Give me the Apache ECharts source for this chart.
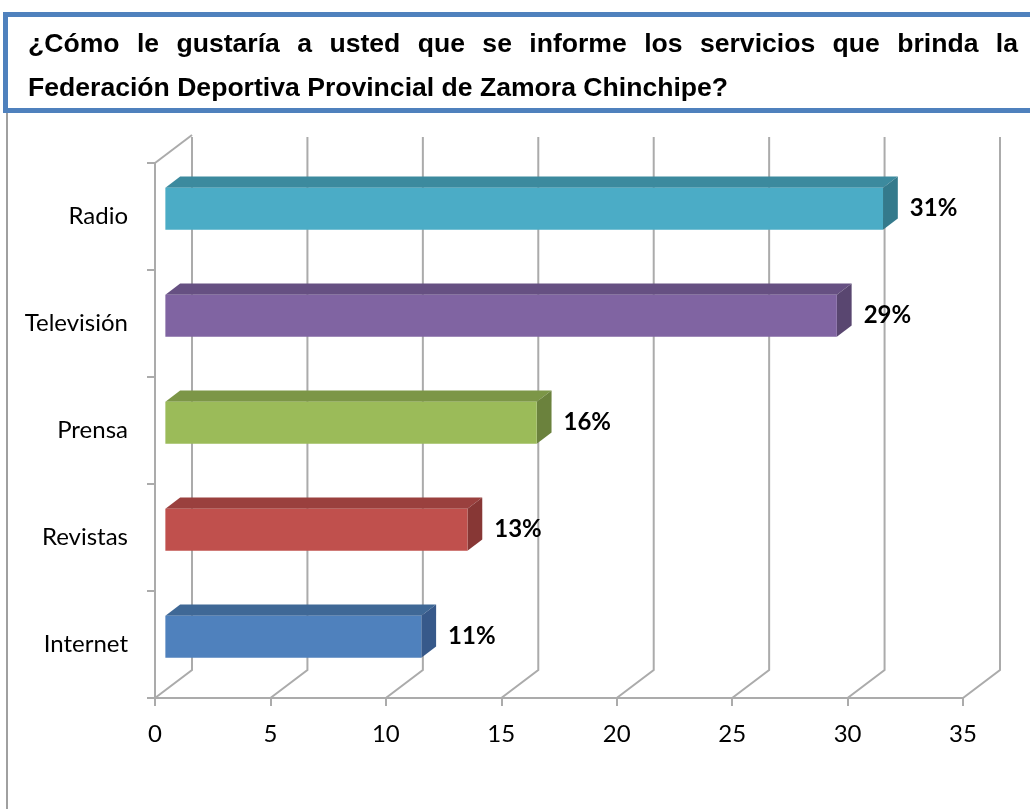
<!DOCTYPE html>
<html><head><meta charset="utf-8">
<script src="https://cdn.jsdelivr.net/npm/echarts@6/dist/echarts.min.js"></script>
<style>html,body{margin:0;padding:0;background:#fff}#c{width:1030px;height:809px}</style>
</head><body><div id="c"></div>
<script>
// ---- data ----
const categories = ['Internet', 'Revistas', 'Prensa', 'Televisión', 'Radio'];
const values = [11, 13, 16, 29, 31];
const xTicks = [0, 5, 10, 15, 20, 25, 30, 35];
const titleLine1 = '¿Cómo le gustaría a usted que se informe los servicios que brinda la';
const titleLine2 = 'Federación Deportiva Provincial de Zamora Chinchipe?';

// ---- styles ----
const faceColors = ['#4F81BD', '#C0504D', '#9BBB59', '#8064A2', '#4BACC6'];
const topColors  = ['#3F6896', '#9A403E', '#7C9647', '#665082', '#3C8A9E'];
const sideColors = ['#37598A', '#873735', '#6B823D', '#594670', '#347A8C'];
const GRID_COLOR = '#ABABAB';
const DX = 37, DY = -28;      // depth vector of the 3D box
const F0 = 0.28, F1 = 0.68;   // bar depth range
const BAR_H = 42;
const LABEL_FONT = 'Lato';

// ---- title layout (justified line 1) ----
const ctx = document.createElement('canvas').getContext('2d');
ctx.font = 'bold 26px "Liberation Sans"';
const l2w = ctx.measureText(titleLine2).width;
const TFS = 26 * 700 / l2w;
const TF = 'bold ' + TFS.toFixed(2) + 'px "Liberation Sans"';
ctx.font = TF;
const words = titleLine1.split(' ');
const widths = words.map(w => ctx.measureText(w).width);
const totalW = widths.reduce((a, b) => a + b, 0);
const gap = (1018 - 28 - totalW) / (words.length - 1);
const titleEls = [];
let tx = 28;
words.forEach((w, k) => {
  titleEls.push({type: 'text', x: tx, y: 45, style: {text: w, font: TF, fill: '#000', verticalAlign: 'middle', align: 'left'}});
  tx += widths[k] + gap;
});
titleEls.push({type: 'text', x: 28, y: 89, style: {text: titleLine2, font: TF, fill: '#000', verticalAlign: 'middle', align: 'left'}});

const chart = echarts.init(document.getElementById('c'), null, {renderer: 'canvas'});
chart.setOption({
  animation: false,
  backgroundColor: '#fff',
  graphic: [
    {type: 'line', shape: {x1: 7, y1: 112, x2: 7, y2: 809}, style: {stroke: '#A0A0A0', lineWidth: 2}, z: 0},
    {type: 'rect', shape: {x: 5.5, y: 14.5, width: 1100, height: 96}, style: {fill: '#fff', stroke: '#4F81BD', lineWidth: 5}, z: 1},
  ].concat(titleEls.map(e => Object.assign(e, {z: 2}))),
  grid: {left: 155, right: 67, top: 163, bottom: 111, containLabel: false},
  xAxis: {
    type: 'value', min: 0, max: 35, interval: 5,
    axisLine: {show: true, lineStyle: {color: GRID_COLOR, width: 2}},
    axisTick: {show: true, length: 8, lineStyle: {color: GRID_COLOR, width: 2}},
    axisLabel: {color: '#000', fontSize: 24, fontFamily: LABEL_FONT, margin: 24},
    splitLine: {show: false}
  },
  yAxis: {
    type: 'category', data: categories,
    axisLine: {show: true, lineStyle: {color: GRID_COLOR, width: 2}},
    axisTick: {show: true, length: 8, lineStyle: {color: GRID_COLOR, width: 2}},
    axisLabel: {color: '#000', fontSize: 24, fontFamily: LABEL_FONT, margin: 27},
    splitLine: {show: false}
  },
  series: [
    {
      type: 'custom', z: 1, silent: true,
      data: xTicks.map(v => [v, 0]),
      renderItem: function (params, api) {
        const cs = params.coordSys;
        const x = api.coord([api.value(0), 0])[0];
        const yb = cs.y + cs.height, yt = cs.y;
        const children = [{
          type: 'polyline',
          shape: {points: [[x, yb], [x + DX, yb + DY], [x + DX, yt + DY + 2]]},
          style: {stroke: GRID_COLOR, lineWidth: 2, fill: null}
        }];
        if (params.dataIndex === 0) {
          children.push({type: 'line', shape: {x1: x, y1: yt, x2: x + DX, y2: yt + DY}, style: {stroke: GRID_COLOR, lineWidth: 2}});
        }
        return {type: 'group', children: children};
      }
    },
    {
      type: 'custom', z: 3, silent: true,
      data: values.map((v, i) => [v, i]),
      renderItem: function (params, api) {
        const v = api.value(0), i = api.value(1);
        const p0 = api.coord([0, i]), p1 = api.coord([v, i]);
        const ox = F0 * DX, oy = F0 * DY;
        const dx = (F1 - F0) * DX, dy = (F1 - F0) * DY;
        const x0 = p0[0] + ox, x1 = p1[0] + ox + 2, yc = p0[1] + oy;
        const yt = yc - BAR_H / 2, yb = yc + BAR_H / 2;
        return {type: 'group', children: [
          {type: 'polygon', shape: {points: [[x0, yt], [x1, yt], [x1 + dx, yt + dy], [x0 + dx, yt + dy]]}, style: {fill: topColors[i]}},
          {type: 'polygon', shape: {points: [[x1, yt], [x1 + dx, yt + dy], [x1 + dx, yb + dy], [x1, yb]]}, style: {fill: sideColors[i]}},
          {type: 'rect', shape: {x: x0, y: yt, width: x1 - x0, height: BAR_H}, style: {fill: faceColors[i]}},
          {type: 'text', x: x1 + dx + 12, y: yc, style: {text: v + '%', font: 'bold 24px ' + LABEL_FONT, fill: '#000', verticalAlign: 'middle', align: 'left'}}
        ]};
      }
    }
  ]
});
</script>
</body></html>
